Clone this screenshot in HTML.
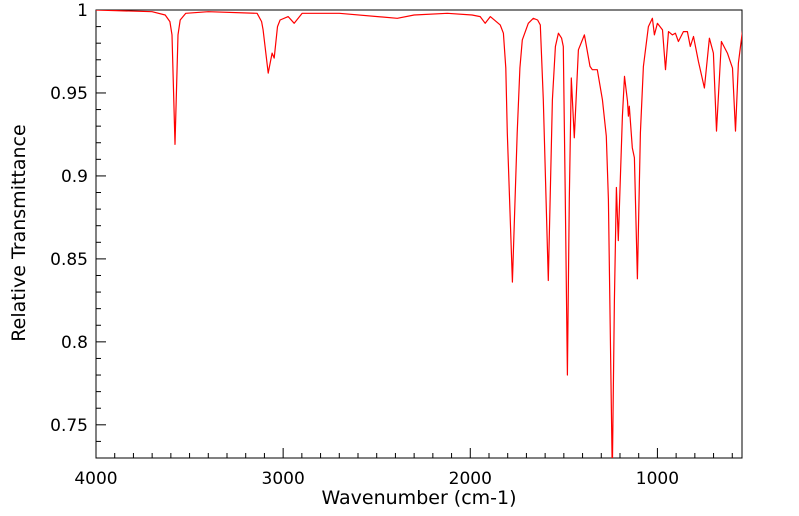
<!DOCTYPE html>
<html><head><meta charset="utf-8"><style>
body{margin:0;background:#fff;}
svg{display:block;font-family:"DejaVu Sans","Liberation Sans",sans-serif;}
</style></head><body>
<svg id="chart" width="799" height="516" viewBox="0 0 799 516"></svg>
<script>
const wavenumbers=[4000,3700,3630,3605,3594,3578,3562,3550,3520,3400,3139,3115,3107,3080,3059,3048,3030,3016,2973,2941,2898,2700,2390,2300,2123,1990,1947,1920,1893,1840,1823,1810,1802,1775,1749,1735,1722,1690,1663,1640,1626,1610,1583,1561,1545,1529,1512,1503,1492,1481,1471,1460,1444,1422,1390,1360,1348,1321,1294,1273,1262,1241,1230,1219,1209,1187,1176,1160,1155,1150,1134,1123,1107,1091,1075,1048,1027,1016,1000,973,957,941,920,904,888,861,840,824,807,781,749,722,701,684,658,626,599,583,567,545];
const transmittance=[1.0,0.999,0.997,0.993,0.985,0.919,0.985,0.994,0.998,0.999,0.998,0.993,0.988,0.962,0.974,0.971,0.99,0.994,0.996,0.992,0.998,0.998,0.995,0.997,0.998,0.997,0.996,0.992,0.996,0.991,0.986,0.965,0.926,0.836,0.926,0.965,0.982,0.992,0.995,0.994,0.991,0.946,0.837,0.946,0.978,0.986,0.983,0.978,0.886,0.78,0.886,0.959,0.923,0.976,0.985,0.966,0.964,0.964,0.946,0.924,0.886,0.72,0.825,0.893,0.861,0.936,0.96,0.945,0.936,0.942,0.917,0.911,0.838,0.926,0.966,0.99,0.995,0.985,0.992,0.988,0.964,0.987,0.985,0.986,0.981,0.987,0.987,0.978,0.984,0.969,0.953,0.983,0.974,0.927,0.981,0.974,0.965,0.927,0.968,0.988];
const xTicks=[4000,3000,2000,1000];
const yTicks=[1,0.95,0.9,0.85,0.8,0.75];
const yTickLabels=["1","0.95","0.9","0.85","0.8","0.75"];

const L=96,R=742,T=10,B=458;
const xMax=4000,xMin=548,yMin=0.73,yMax=1.0;
const sx=w=>L+(xMax-w)/(xMax-xMin)*(R-L);
const sy=v=>T+(yMax-v)/(yMax-yMin)*(B-T);
const svg=document.getElementById('chart');
const NS='http://www.w3.org/2000/svg';
function mk(tag,attrs,parent){const e=document.createElementNS(NS,tag);for(const k in attrs)e.setAttribute(k,attrs[k]);(parent||svg).appendChild(e);return e;}

const defs=mk('defs',{});
const cp=mk('clipPath',{id:'plotclip'},defs);
mk('rect',{x:L,y:T,width:R-L,height:B-T},cp);

const tg=mk('g',{stroke:'#000','stroke-width':1});


for(let v=0.73;v<=1.0001;v+=0.01){
  const vv=Math.round(v*100)/100;
  const major=Math.abs(vv*20-Math.round(vv*20))<1e-6;
  const y=sy(vv);
  mk('line',{x1:L,x2:L+(major?10:5),y1:y,y2:y},tg);
}
for(let w=4000;w>=xMin;w-=100){
  const major=w%1000===0;
  const x=sx(w);
  mk('line',{x1:x,x2:x,y1:B,y2:B-(major?10:5)},tg);
}
const fr=mk('rect',{x:L,y:T,width:R-L,height:B-T,fill:'none',stroke:'#000','stroke-width':1});



yTicks.forEach((v,i)=>{
  const t=mk('text',{x:88,y:sy(v)+6,'text-anchor':'end','font-size':17,fill:'#000'});
  
  
  t.textContent=yTickLabels[i];
});
xTicks.forEach(w=>{
  const t=mk('text',{x:sx(w),y:484,'text-anchor':'middle','font-size':17,fill:'#000'});
  
  
  t.textContent=String(w);
});
const xt=mk('text',{x:419,y:504,'text-anchor':'middle','font-size':19,fill:'#000'});


xt.textContent='Wavenumber (cm-1)';
const yt=mk('text',{x:0,y:0,'text-anchor':'middle','font-size':19,fill:'#000',transform:'translate(25,233) rotate(-90)'});


yt.textContent='Relative Transmittance';

const pts=wavenumbers.map((w,i)=>sx(w).toFixed(1)+','+sy(transmittance[i]).toFixed(1)).join(' ');
const line=mk('polyline',{points:pts,fill:'none',stroke:'#ff0000','stroke-width':1.2,'stroke-linejoin':'round','clip-path':'url(#plotclip)'});


</script>
</body></html>
